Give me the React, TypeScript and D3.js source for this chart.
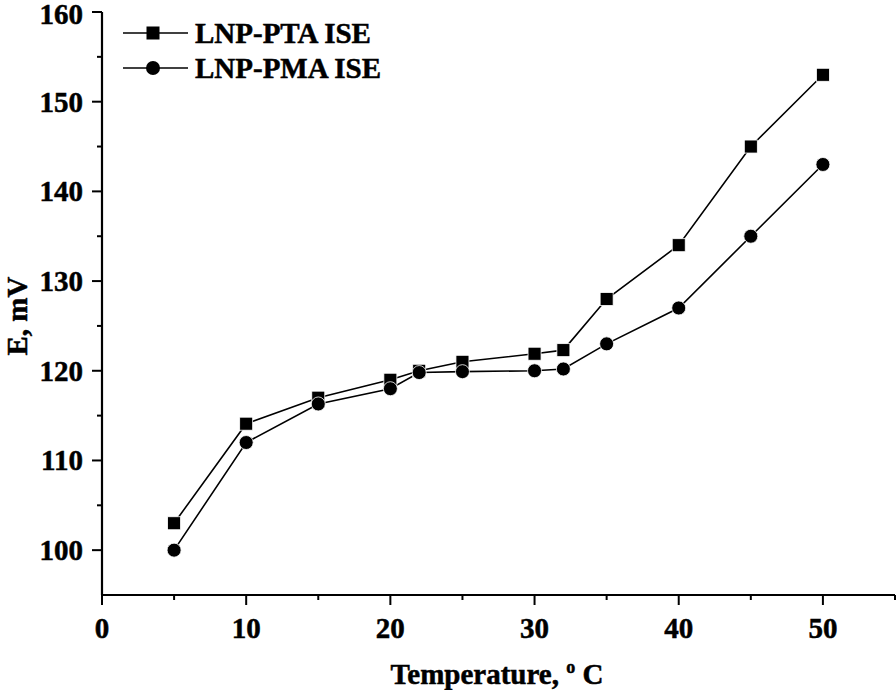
import React from "react";
import * as d3 from "d3";

const temperatures = [5, 10, 15, 20, 22, 25, 30, 32, 35, 40, 45, 50];
const ptaValues = [103, 114.1, 117, 119, 120, 121, 121.9, 122.3, 128, 134, 145, 153];
const pmaValues = [100, 112, 116.3, 118, 119.8, 119.9, 120, 120.2, 123, 127, 135, 143];
const xTicks = [0, 10, 20, 30, 40, 50];
const yTicks = [100, 110, 120, 130, 140, 150, 160];
const seriesNames = ["LNP-PTA ISE", "LNP-PMA ISE"];

const W = 896;
const H = 690;
const FONT = "'Liberation Serif', 'Times New Roman', serif";

export default function App() {
  const x = d3.scaleLinear().domain([0, 55]).range([102, 895]);
  const y = d3.scaleLinear().domain([95, 160]).range([595, 12]);
  const xMinor = d3.range(5, 56, 10);
  const yMinor = d3.range(105, 160, 10);

  const line = d3
    .line<[number, number]>()
    .x((d) => x(d[0]))
    .y((d) => y(d[1]));

  const pta: [number, number][] = temperatures.map((t, i) => [t, ptaValues[i]]);
  const pma: [number, number][] = temperatures.map((t, i) => [t, pmaValues[i]]);

  const sq = 13;
  const r = 7;
  const textStroke = { stroke: "#000", strokeWidth: 0.5 };

  return (
    <svg
      width={W}
      height={H}
      style={{ position: "absolute", left: 0, top: 0, background: "#fff" }}
      fontFamily={FONT}
      fontWeight="bold"
    >
      <rect width={W} height={H} fill="#fff" />
      {/* data lines */}
      <path d={line(pta) || ""} fill="none" stroke="#000" strokeWidth={1.6} />
      <path d={line(pma) || ""} fill="none" stroke="#000" strokeWidth={1.6} />
      {pta.map((d, i) => (
        <rect
          key={"s" + i}
          x={x(d[0]) - sq / 2}
          y={y(d[1]) - sq / 2}
          width={sq}
          height={sq}
          fill="#000"
          stroke="#fff"
          strokeWidth={0.8}
        />
      ))}
      {pma.map((d, i) => (
        <circle key={"c" + i} cx={x(d[0])} cy={y(d[1])} r={r} fill="#000" stroke="#fff" strokeWidth={0.8} />
      ))}

      {/* axes */}
      <line x1={x(0)} x2={x(55)} y1={595} y2={595} stroke="#000" strokeWidth={2.2} />
      <line x1={102} x2={102} y1={y(160)} y2={y(95)} stroke="#000" strokeWidth={2.2} />
      {xTicks.map((t) => (
        <g key={"xt" + t}>
          <line x1={x(t)} x2={x(t)} y1={595} y2={605} stroke="#000" strokeWidth={2} />
          <text x={x(t)} y={638} textAnchor="middle" fontSize={29} {...textStroke}>
            {t}
          </text>
        </g>
      ))}
      {xMinor.map((t) => (
        <line key={"xm" + t} x1={x(t)} x2={x(t)} y1={595} y2={600} stroke="#000" strokeWidth={2} />
      ))}
      {yTicks.map((t) => (
        <g key={"yt" + t}>
          <line x1={92} x2={102} y1={y(t)} y2={y(t)} stroke="#000" strokeWidth={2} />
          <text x={83} y={Math.max(y(t), 14)} dy="0.34em" textAnchor="end" fontSize={29} {...textStroke}>
            {t}
          </text>
        </g>
      ))}
      {yMinor.map((t) => (
        <line key={"ym" + t} x1={97} x2={102} y1={y(t)} y2={y(t)} stroke="#000" strokeWidth={2} />
      ))}

      {/* axis titles */}
      <text x={497} y={684} textAnchor="middle" fontSize={29} {...textStroke}>
        Temperature,{" "}
        <tspan dy={-11} fontSize={18}>
          o
        </tspan>
        <tspan dy={11}> C</tspan>
      </text>
      <text transform="translate(27,316) rotate(-90)" textAnchor="middle" fontSize={29} {...textStroke}>
        E, mV
      </text>

      {/* legend */}
      {seriesNames.map((name, i) => {
        const cy = i === 0 ? 33 : 68;
        return (
          <g key={name}>
            <line x1={123} x2={188} y1={cy} y2={cy} stroke="#000" strokeWidth={1.6} />
            {i === 0 ? (
              <rect x={153 - sq / 2} y={cy - sq / 2} width={sq} height={sq} fill="#000" />
            ) : (
              <circle cx={153} cy={cy} r={r} fill="#000" />
            )}
            <text x={195} y={cy} dy="0.35em" fontSize={29} {...textStroke}>
              {name}
            </text>
          </g>
        );
      })}
    </svg>
  );
}
